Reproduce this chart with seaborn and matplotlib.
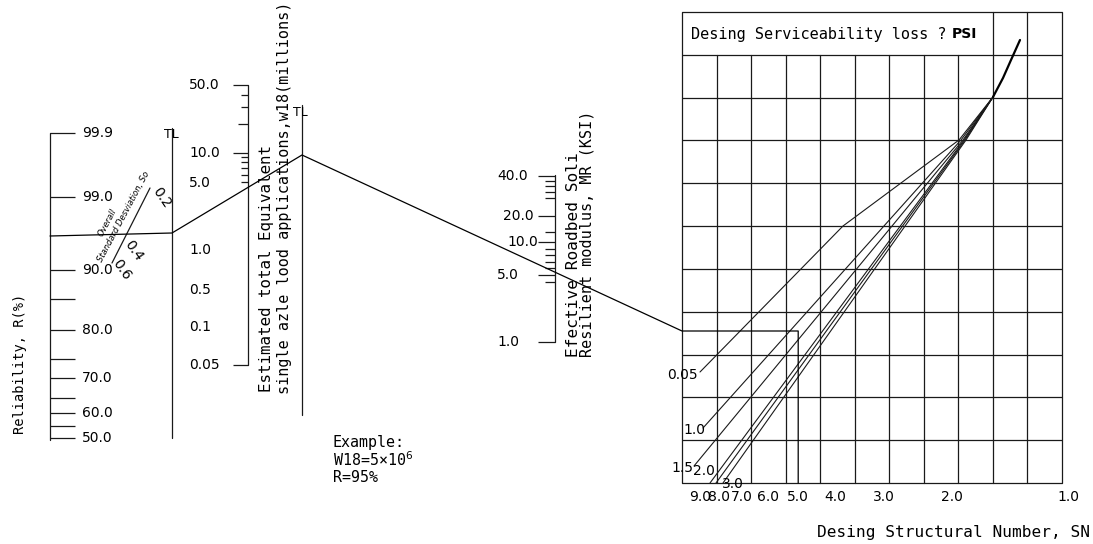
import numpy as np
import pandas as pd
import matplotlib
matplotlib.use("Agg")
import matplotlib.pyplot as plt
import seaborn as sns

# -=-=-=-=-=- scale data -=-=-=-=-=-

# Reliability, R(%)
rel_labels = ["99.9", "99.0", "90.0", "80.0", "70.0", "60.0", "50.0"]
rel_label_y = [133, 197, 270, 330, 378, 413, 438]
rel_minor_y = [299, 359, 398, 426]

# Overall standard deviation, So
so_labels = ["0.2", "0.4", "0.6"]
so_label_xy = [(162, 198), (134, 251), (122, 270)]

# W18 (millions)
w18_major = [50, 10]
w18_mid = [20]
w18_minor = [40, 30, 9, 8, 7, 6, 5]
w18_labels = ["50.0", "10.0", "5.0", "1.0", "0.5", "0.1", "0.05"]
w18_label_y = [85, 153, 183, 250, 290, 327, 365]

# MR (KSI)
mr_labels = ["40.0", "20.0", "10.0", "5.0", "1.0"]
mr_label_y = [176, 216, 242, 275, 342]
mr_label_x = [497, 503, 507, 497, 497]
mr_minor_y = [181, 186, 192, 198, 232, 249, 255, 262, 268, 282]

# Design structural number, SN
sn_labels = [9.0, 8.0, 7.0, 6.0, 5.0, 4.0, 3.0, 2.0, 1.0]

# Serviceability loss lines (end points on the chart)
psi_loss = ["0.05", "1.0", "1.5", "2.0", "2.5", "3.0"]
psi_bend_x = [959, 961, 963, 964, 965, 966]
psi_end_x = [700, 703, 694, 710, 716, 723]
psi_end_y = [372, 428, 466, 483, 483, 483]
psi_label = ["0.05", "1.0", "1.5", "2.0", "", "3.0"]
psi_label_xy = [(682, 375), (694, 430), (682, 468), (704, 471), (0, 0), (733, 484)]

# example: W18 = 5x10^6, R = 95%, MR = 5 ksi -> SN = 5.0
example_sn = 5.0

# -=-=-=-=-=- layout of the sheet (pixels) -=-=-=-=-=-
REL_X, TL1_X, W18_X, TL2_X, MR_X = 50, 172, 248, 302, 555
G_L, G_R, G_T, G_B = 682, 1062, 12, 483
PIVOT = (993, 97)


def sn_x(v):
    return 1068 - 386 * np.log10(v)


def w18_y(v):
    return 153 - 97 * np.log10(v / 10)


sns.set_theme(style="white")
plt.rcParams['font.family'] = ['DejaVu Sans']
plt.rcParams['text.color'] = 'black'
CAD = 'DejaVu Sans Mono'   # wide, evenly spaced like the drafting font

fig = plt.figure(figsize=(10.93, 5.44), dpi=100)
ax = fig.add_axes([0, 0, 1, 1])
ink = '#1a1a1a'
lw = 0.9

# reliability scale
ax.plot([REL_X, REL_X], [133, 440], color=ink, lw=lw)
ax.hlines(rel_label_y + rel_minor_y, REL_X, 75, color=ink, lw=lw)
for lab, y in zip(rel_labels, rel_label_y):
    ax.text(82, y, lab, fontsize=10, va='center', ha='left')
ax.text(20, 434, "Reliability, R(%)", rotation=90, fontsize=9.8, family=CAD,
        ha='center', va='bottom')

# So scale
ax.plot([112, 150], [263, 188], color=ink, lw=lw)
ax.text(104, 263, "Standard Desviation, So", rotation=62, fontsize=6,
        rotation_mode='anchor', ha='left', va='bottom', style='italic')
ax.text(104, 238, "Overall", rotation=62, fontsize=6,
        rotation_mode='anchor', ha='left', va='bottom', style='italic')
for lab, (x, y) in zip(so_labels, so_label_xy):
    ax.text(x, y, lab, rotation=-55, fontsize=10, ha='center', va='center')

# turning lines
ax.plot([TL1_X, TL1_X], [128, 438], color=ink, lw=lw)
ax.text(TL1_X - 1, 134, "TL", fontsize=9, ha='center', va='center')
ax.plot([TL2_X, TL2_X], [105, 415], color=ink, lw=lw)
ax.text(TL2_X - 2, 112, "TL", fontsize=9, ha='center', va='center')

# W18 scale
ax.plot([W18_X, W18_X], [85, 365], color=ink, lw=lw)
ax.hlines([w18_y(v) for v in w18_major] + [365], 233, W18_X, color=ink, lw=lw)
ax.hlines([w18_y(v) for v in w18_mid], 238, W18_X, color=ink, lw=lw)
ax.hlines([w18_y(v) for v in w18_minor], 241, W18_X, color=ink, lw=lw)
for lab, y in zip(w18_labels, w18_label_y):
    ax.text(189, y, lab, fontsize=10, va='center', ha='left')
ax.text(266, 392, "Estimated total Equivalent", rotation=90, fontsize=11.4,
        family=CAD, ha='center', va='bottom')
ax.text(284, 394, "single azle lood applications,w18(millions)", rotation=90,
        fontsize=10.9, family=CAD, ha='center', va='bottom')

# MR scale
ax.plot([MR_X, MR_X], [175, 342], color=ink, lw=lw)
ax.hlines(mr_label_y, 538, MR_X, color=ink, lw=lw)
ax.hlines(mr_minor_y, 545, MR_X, color=ink, lw=lw)
for lab, x, y in zip(mr_labels, mr_label_x, mr_label_y):
    ax.text(x, y, lab, fontsize=10, va='center', ha='left')
ax.text(573, 357, "Efective Roadbed Soli", rotation=90, fontsize=11.6,
        family=CAD, ha='center', va='bottom')
ax.text(587, 357, "Resilient modulus, MR (KSI)", rotation=90, fontsize=10.9,
        family=CAD, ha='center', va='bottom')

# example text
ax.text(333, 442, "Example:", fontsize=10.8, family=CAD, va='center')
ax.text(333, 460, "W18=5×10$^{6}$", fontsize=10.8, family=CAD, va='center')
ax.text(333, 478, "R=95%", fontsize=10.8, family=CAD, va='center')

# design chart grid
rows = np.linspace(G_T, G_B, 12)
cols = np.linspace(G_L, G_R, 12)
ax.hlines(rows, G_L, G_R, color=ink, lw=lw)
for i, x in enumerate(cols):
    top = G_T if i in (0, 9, 10, 11) else rows[1]
    ax.plot([x, x], [top, G_B], color=ink, lw=lw)
ax.text(691, 34, "Desing Serviceability loss ?", fontsize=11, family=CAD,
        va='center')
ax.text(952, 34, "PSI", fontsize=10, va='center', fontweight='bold')

for v in sn_labels:
    ax.text(sn_x(v), 497, f"{v:.1f}", fontsize=10, ha='center', va='center')
ax.text(1090, 532, "Desing Structural Number, SN", fontsize=11.6, family=CAD,
        ha='right', va='center')

# serviceability loss lines
rows_df = []
for loss, bx, ex, ey in zip(psi_loss, psi_bend_x, psi_end_x, psi_end_y):
    pts = [PIVOT, (bx, 140)]
    if loss == "0.05":
        pts.append((843, 226))
    pts.append((ex, ey))
    for x, y in pts:
        rows_df.append({"loss": loss, "x": x, "y": y})
fan = pd.DataFrame(rows_df)
sns.lineplot(data=fan, x="x", y="y", units="loss", estimator=None, sort=False,
             color=ink, lw=0.8, ax=ax)
for lab, (x, y) in zip(psi_label, psi_label_xy):
    if lab:
        ax.text(x, y, lab, fontsize=10, ha='center', va='center')

# upper curve above the pivot
top_curve = pd.DataFrame({"x": [993, 1003, 1011, 1020], "y": [97, 78, 60, 40]})
sns.lineplot(data=top_curve, x="x", y="y", estimator=None, sort=False,
             color='black', lw=1.6, ax=ax)

# example path through the nomograph
sx = sn_x(example_sn)
path = pd.DataFrame({"x": [REL_X, TL1_X, TL2_X, G_L, sx, sx],
                     "y": [236, 233, 155, 331, 331, G_B]})
sns.lineplot(data=path, x="x", y="y", estimator=None, sort=False,
             color='black', lw=0.9, ax=ax)

ax.set_xlim(0, 1093)
ax.set_ylim(544, 0)
ax.set_axis_off()

fig.savefig("out.png", dpi=100, facecolor='white')
